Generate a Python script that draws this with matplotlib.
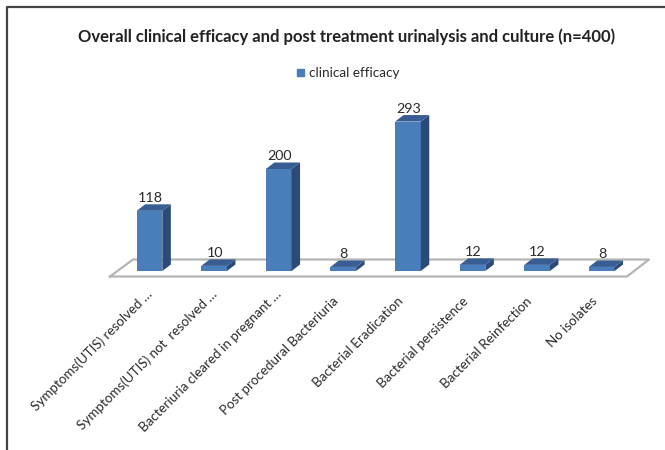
import matplotlib
matplotlib.use("Agg")
from matplotlib import pyplot as plt

categories = ["Symptoms(UTIS) resolved …", "Symptoms(UTIS) not  resolved …",
              "Bacteriuria cleared in pregnant …", "Post procedural Bacteriuria",
              "Bacterial Eradication", "Bacterial persistence",
              "Bacterial Reinfection", "No isolates"]
values = [118, 10, 200, 8, 293, 12, 12, 8]
series_name = "clinical efficacy"
title = "Overall clinical efficacy and post treatment urinalysis and culture (n=400)"

plt.rcParams['font.family'] = ['Lato', 'DejaVu Sans']

W, H = 665, 450
fig = plt.figure(figsize=(W / 100, H / 100), dpi=100, facecolor="white")
ax = fig.add_axes([0, 0, 1, 1])
ax.axis("off")

# scale: 64.6 px per category, 0.51 px per unit
px_x = 64.6
px_y = 0.51
ax.set_xlim(-149.5 / px_x, (W - 149.5) / px_x)
ax.set_ylim(-(H - 271) / px_y, 271 / px_y)

width = 25.7 / px_x
dx = 8.5 / px_x
dy = 6.5 / px_y

front = "#4a7ebb"
top = "#375d92"
side = "#2c4a78"
text_col = "#2a2a2a"

# floor
fx = [-39.5 / px_x, -16.5 / px_x, 499.5 / px_x, 477.5 / px_x, -39.5 / px_x]
fy = [-5.5 / px_y, 11.5 / px_y, 11.5 / px_y, -5.5 / px_y, -5.5 / px_y]
ax.plot(fx, fy, color="#b5b5b5", lw=1.6, zorder=1)

for i, v in enumerate(values):
    l = i - width / 2
    r = i + width / 2
    ax.bar(i, v, width, color=front, zorder=3)
    ax.fill([r, r + dx, r + dx, r], [0, dy, v + dy, v], color=side, lw=0, zorder=3)
    ax.fill([l, r, r + dx, l + dx], [v, v, v + dy, v + dy], color=top, lw=0, zorder=3)
    ax.text(i + 0.5 / px_x, v + dy + 0.5 / px_y, str(v), ha="center", va="bottom",
            fontsize=10.3, color=text_col, zorder=4)
    # the shortened labels sit a bit further up their slope
    shift = 7 if categories[i].endswith("…") else 0
    ax.text(i + (shift - 11) / px_x, (shift - 24) / px_y, categories[i], rotation=45,
            ha="right", va="top", rotation_mode="anchor", fontsize=9.6, color=text_col)

# frame of the picture, in figure pixels
fig.add_artist(plt.Line2D([6.5 / W, 6.5 / W, 1], [0, 1 - 6.5 / H, 1 - 6.5 / H],
                          color="#444444", lw=1.6))

fig.text(346.5 / W, 1 - 36.5 / H, title, ha="center", va="center", fontsize=12,
         fontweight="bold", color="#222222")

# legend
fig.patches.append(plt.Rectangle((297 / W, 1 - 76 / H), 7 / W, 7 / H, color=front,
                                 transform=fig.transFigure))
fig.text(309 / W, 1 - 73 / H, series_name, ha="left", va="center", fontsize=9.7,
         color=text_col)

fig.savefig("out.png", dpi=100)
